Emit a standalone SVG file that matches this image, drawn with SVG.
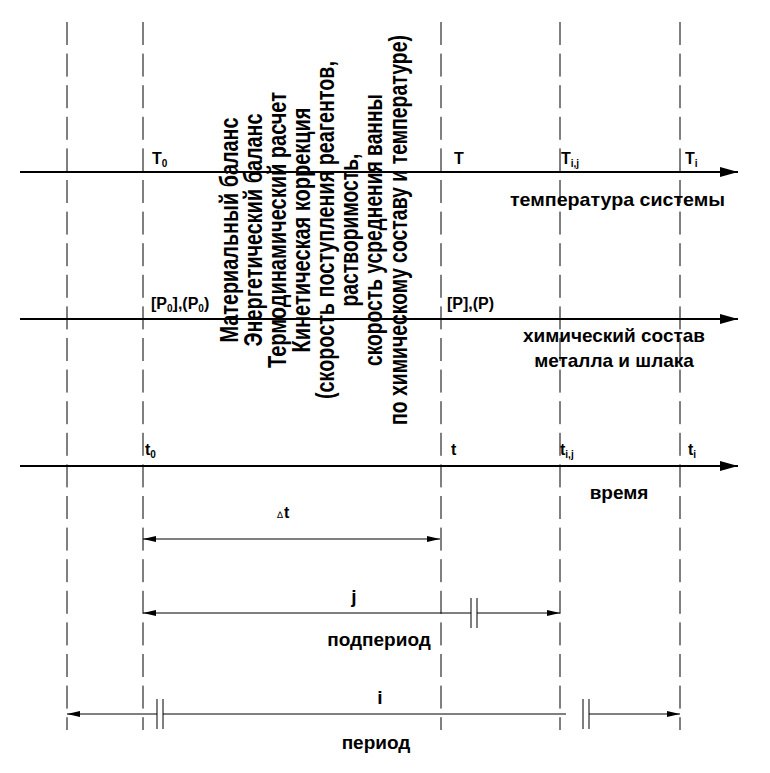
<svg xmlns="http://www.w3.org/2000/svg" width="770" height="773" viewBox="0 0 770 773">
<defs>
<style>
.grid{stroke:#000;stroke-width:1;stroke-dasharray:23 8.6;fill:none}
.axis{stroke:#000;stroke-width:2;fill:none}
.dim{stroke:#000;stroke-width:1;fill:none}
.lbl{font-family:"Liberation Sans",Arial,sans-serif;font-size:16px;font-weight:bold;fill:#000}
.sub{font-size:10px}
.cap{font-family:"Liberation Sans",Arial,sans-serif;font-size:19px;font-weight:bold;fill:#000}
.rot{font-family:"Liberation Sans",Arial,sans-serif;font-size:26px;font-weight:bold;fill:#000;text-anchor:middle}
</style>
<marker id="axArrow" markerUnits="userSpaceOnUse" markerWidth="18" markerHeight="10" refX="18" refY="5" orient="auto" viewBox="0 0 18 10">
<path d="M0,0 L18,5 L0,10 z" fill="#000"/>
</marker>
<marker id="dimArrow" markerUnits="userSpaceOnUse" markerWidth="13" markerHeight="6" refX="13" refY="3" orient="auto-start-reverse" viewBox="0 0 13 6">
<path d="M0,0 L13,3 L0,6 z" fill="#000"/>
</marker>
</defs>

<g id="grid-lines">
<line class="grid" x1="67" y1="22" x2="67" y2="730"/>
<line class="grid" x1="143" y1="22" x2="143" y2="730"/>
<line class="grid" x1="441" y1="22" x2="441" y2="730"/>
<line class="grid" x1="560" y1="22" x2="560" y2="730"/>
<line class="grid" x1="680" y1="22" x2="680" y2="730"/>
</g>

<g id="connectors">
<line class="axis" x1="20" y1="172" x2="738" y2="172" marker-end="url(#axArrow)"/>
<line class="axis" x1="20" y1="319" x2="738" y2="319" marker-end="url(#axArrow)"/>
<line class="axis" x1="20" y1="466" x2="738" y2="466" marker-end="url(#axArrow)"/>
<line class="dim" x1="143" y1="539" x2="440" y2="539" marker-start="url(#dimArrow)" marker-end="url(#dimArrow)"/>
<line class="dim" x1="143" y1="613" x2="471" y2="613" marker-start="url(#dimArrow)"/>
<line class="dim" x1="477" y1="613" x2="560" y2="613" marker-end="url(#dimArrow)"/>
<line class="dim" x1="471" y1="598" x2="471" y2="628"/>
<line class="dim" x1="477" y1="598" x2="477" y2="628"/>
<line class="dim" x1="67" y1="714" x2="157" y2="714" marker-start="url(#dimArrow)"/>
<line class="dim" x1="163" y1="714" x2="566" y2="714"/>
<line class="dim" x1="589" y1="714" x2="680" y2="714" marker-end="url(#dimArrow)"/>
<line class="dim" x1="157" y1="699" x2="157" y2="729"/>
<line class="dim" x1="163" y1="699" x2="163" y2="729"/>
<line class="dim" x1="583" y1="699" x2="583" y2="729"/>
<line class="dim" x1="589" y1="699" x2="589" y2="729"/>
</g>

<g id="temperature-axis">
<text class="lbl" x="152" y="164">T<tspan class="sub" dy="3">0</tspan></text>
<text class="lbl" x="454" y="164">T</text>
<text class="lbl" x="561" y="164">T<tspan class="sub" dy="3">i,j</tspan></text>
<text class="lbl" x="685" y="164">T<tspan class="sub" dy="3">i</tspan></text>
<text class="cap" x="510" y="206" textLength="215" lengthAdjust="spacingAndGlyphs">температура системы</text>
</g>

<g id="composition-axis">
<text class="lbl" x="151" y="309">[P<tspan class="sub" dy="3">0</tspan><tspan dy="-3">],(P</tspan><tspan class="sub" dy="3">0</tspan><tspan dy="-3">)</tspan></text>
<text class="lbl" x="447" y="309">[P],(P)</text>
<text class="cap" x="614" y="342" text-anchor="middle">химический состав</text>
<text class="cap" x="614" y="367" text-anchor="middle">металла и шлака</text>
</g>

<g id="time-axis">
<text class="lbl" x="145" y="455">t<tspan class="sub" dy="3">0</tspan></text>
<text class="lbl" x="451" y="455">t</text>
<text class="lbl" x="560" y="455">t<tspan class="sub" dy="3">i,j</tspan></text>
<text class="lbl" x="688" y="455">t<tspan class="sub" dy="3">i</tspan></text>
<text class="cap" x="619" y="499" text-anchor="middle">время</text>
</g>

<g id="calculations">
<text class="rot" transform="translate(238,230) rotate(-90)" textLength="225" lengthAdjust="spacingAndGlyphs">Материальный баланс</text>
<text class="rot" transform="translate(262,230) rotate(-90)" textLength="233" lengthAdjust="spacingAndGlyphs">Энергетический баланс</text>
<text class="rot" transform="translate(286,230) rotate(-90)" textLength="276" lengthAdjust="spacingAndGlyphs">Термодинамический расчет</text>
<text class="rot" transform="translate(310,230) rotate(-90)" textLength="245" lengthAdjust="spacingAndGlyphs">Кинетическая коррекция</text>
<text class="rot" transform="translate(334,230) rotate(-90)" textLength="338" lengthAdjust="spacingAndGlyphs">(скорость поступления реагентов,</text>
<text class="rot" transform="translate(358,230) rotate(-90)" textLength="153" lengthAdjust="spacingAndGlyphs">растворимость,</text>
<text class="rot" transform="translate(382,230) rotate(-90)" textLength="272" lengthAdjust="spacingAndGlyphs">скорость усреднения ванны</text>
<text class="rot" transform="translate(407,230) rotate(-90)" textLength="390" lengthAdjust="spacingAndGlyphs">по химическому составу и температуре)</text>
</g>

<g id="delta-t">
<text x="277" y="518" font-family="'DejaVu Sans',sans-serif" font-size="9" fill="#000">∆</text>
<text class="lbl" x="284" y="518">t</text>
</g>

<g id="subperiod">
<text class="cap" x="354" y="603" text-anchor="middle">j</text>
<text class="cap" x="379" y="646" text-anchor="middle">подпериод</text>
</g>

<g id="period">
<text class="cap" x="380" y="704" text-anchor="middle">i</text>
<text class="cap" x="376" y="749" text-anchor="middle">период</text>
</g>
</svg>
